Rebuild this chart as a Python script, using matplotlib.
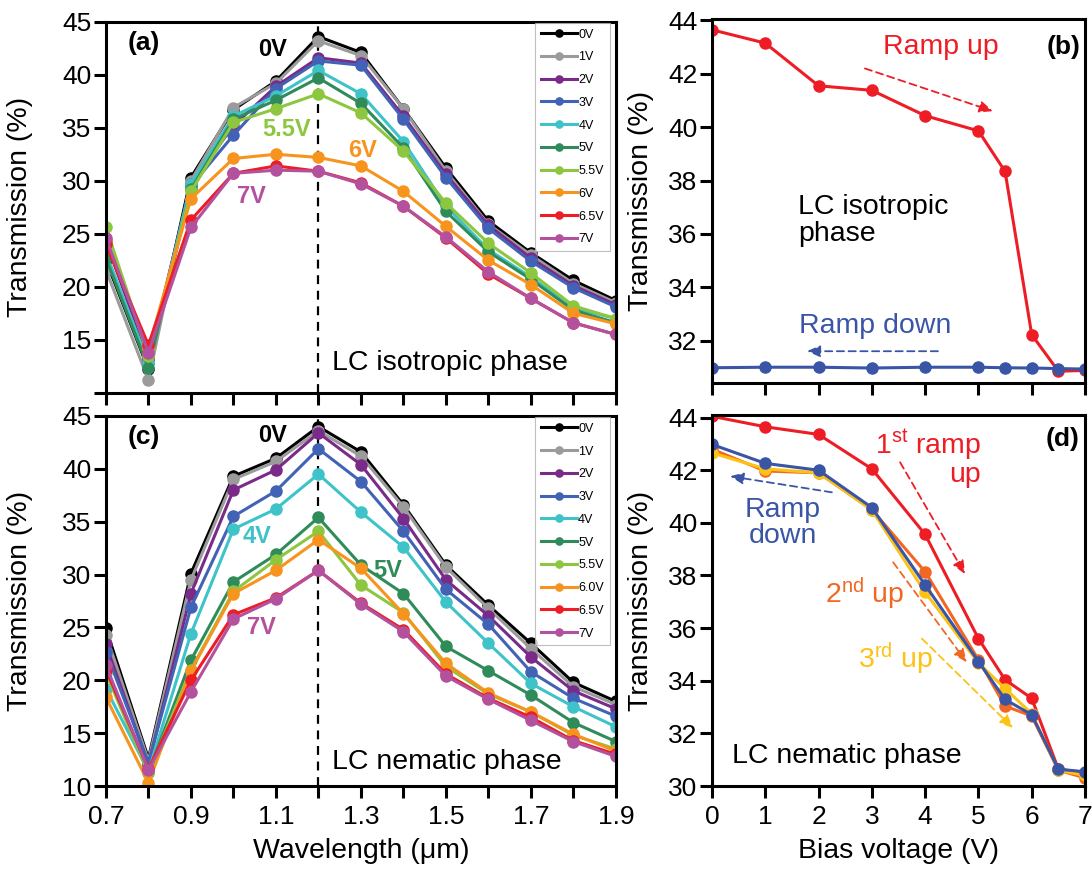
import matplotlib
matplotlib.use('Agg')
import matplotlib.pyplot as plt
from matplotlib.ticker import FixedLocator, NullFormatter

plt.rcParams['font.family'] = ['Liberation Sans', 'DejaVu Sans']
plt.rcParams['mathtext.fontset'] = 'custom'
plt.rcParams['mathtext.rm'] = 'Liberation Sans'
plt.rcParams['mathtext.it'] = 'Liberation Sans:italic'
plt.rcParams['mathtext.bf'] = 'Liberation Sans:bold'

# ---- spectra, wavelength in um ----
wavelength = [0.7, 0.8, 0.9, 1.0, 1.1, 1.2, 1.3, 1.4, 1.5, 1.6, 1.7, 1.8, 1.9]
volt_labels_iso = ['0V', '1V', '2V', '3V', '4V', '5V', '5.5V', '6V', '6.5V', '7V']
volt_labels_nem = ['0V', '1V', '2V', '3V', '4V', '5V', '5.5V', '6.0V', '6.5V', '7V']
volt_colors = ['#000000', '#9b9b9b', '#7a2a88', '#4262b6', '#3ec3c9',
               '#2f8c5a', '#8dc63f', '#f7941e', '#ee1d25', '#b4519e']

# LC isotropic phase
iso_0v = [22.5, 12.2, 30.3, 36.7, 39.4, 43.6, 42.1, 36.8, 31.2, 26.2, 23.2, 20.6, 18.7]
iso_1v = [21.6, 11.2, 30.0, 36.9, 39.2, 43.2, 41.8, 36.8, 30.9, 25.9, 23.0, 20.3, 18.5]
iso_2v = [24.3, 13.2, 29.7, 35.2, 38.9, 41.6, 41.1, 36.1, 30.6, 25.8, 22.7, 20.1, 18.3]
iso_3v = [23.0, 12.8, 29.5, 34.3, 38.7, 41.3, 40.9, 35.8, 30.3, 25.5, 22.4, 19.9, 18.1]
iso_4v = [23.2, 12.8, 29.7, 36.1, 38.0, 40.4, 38.2, 33.7, 27.6, 23.5, 20.9, 18.0, 17.0]
iso_5v = [22.7, 12.3, 29.2, 35.8, 37.6, 39.7, 37.3, 33.1, 27.1, 23.3, 20.7, 17.8, 16.6]
iso_55v = [25.6, 13.5, 29.0, 35.5, 36.8, 38.2, 36.4, 32.8, 27.9, 24.1, 21.3, 18.2, 17.0]
iso_6v = [24.3, 14.2, 28.3, 32.1, 32.5, 32.2, 31.4, 29.0, 25.7, 22.5, 20.2, 17.5, 16.5]
iso_65v = [24.0, 14.5, 26.3, 30.7, 31.4, 30.9, 29.8, 27.6, 24.6, 21.2, 18.9, 16.6, 15.5]
iso_7v = [24.6, 13.8, 25.6, 30.7, 31.0, 30.9, 29.7, 27.6, 24.7, 21.4, 18.9, 16.6, 15.5]

# LC nematic phase
nem_0v = [24.9, 12.6, 30.1, 39.3, 41.0, 44.0, 41.6, 36.6, 30.9, 27.1, 23.5, 19.8, 18.0]
nem_1v = [24.3, 12.4, 29.5, 39.0, 40.7, 43.6, 41.2, 36.4, 30.7, 26.8, 23.0, 19.4, 17.7]
nem_2v = [23.4, 12.0, 28.2, 38.0, 39.9, 43.4, 40.4, 35.3, 29.5, 26.1, 22.2, 19.0, 17.3]
nem_3v = [22.7, 12.2, 26.9, 35.5, 37.9, 41.9, 38.8, 34.1, 28.6, 25.3, 20.8, 18.3, 16.6]
nem_4v = [19.2, 11.4, 24.4, 34.3, 36.2, 39.5, 35.9, 32.6, 27.4, 23.5, 19.7, 17.5, 15.6]
nem_5v = [20.9, 11.3, 21.9, 29.3, 31.9, 35.4, 30.9, 28.2, 23.2, 20.9, 18.6, 16.0, 14.2]
nem_55v = [20.7, 11.2, 21.0, 28.4, 31.4, 34.1, 29.0, 26.4, 21.3, 18.7, 17.0, 14.8, 13.5]
nem_6v = [18.4, 10.3, 20.9, 28.2, 30.4, 33.3, 30.6, 26.3, 21.6, 18.8, 17.0, 14.9, 13.3]
nem_65v = [21.0, 11.6, 20.0, 26.2, 27.8, 30.4, 27.3, 24.8, 20.6, 18.3, 16.5, 14.3, 13.0]
nem_7v = [21.4, 11.5, 18.9, 25.8, 27.7, 30.4, 27.2, 24.6, 20.4, 18.2, 16.2, 14.2, 12.8]

# ---- transmission at 1.2 um versus bias ----
bias = [0, 1, 2, 3, 4, 5, 5.5, 6, 6.5, 7]
iso_ramp_up = [43.65, 43.15, 41.55, 41.38, 40.43, 39.86, 38.34, 32.22, 30.85, 30.88]
iso_ramp_down = [30.98, 31.0, 31.0, 30.97, 31.0, 31.0, 30.98, 30.97, 30.95, 30.93]
nem_up1 = [44.05, 43.65, 43.36, 42.05, 39.56, 35.6, 34.04, 33.33, 30.64, 30.5]
nem_up2 = [42.8, 41.97, 41.9, 40.5, 38.14, 34.8, 33.04, 32.66, 30.6, 30.31]
nem_up3 = [42.66, 42.05, 41.9, 40.49, 37.36, 34.68, 33.7, 32.75, 30.6, 30.4]
nem_down = [42.98, 42.26, 42.0, 40.58, 37.64, 34.73, 33.29, 32.71, 30.64, 30.54]

RED = '#ee1d25'
BLUE = '#3a55a6'
ORANGE = '#f26822'
YELLOW = '#fdc216'

iso_series = [iso_0v, iso_1v, iso_2v, iso_3v, iso_4v, iso_5v, iso_55v, iso_6v, iso_65v, iso_7v]
nem_series = [nem_0v, nem_1v, nem_2v, nem_3v, nem_4v, nem_5v, nem_55v, nem_6v, nem_65v, nem_7v]

NOTE = 20.5   # size of the in-panel captions

fig = plt.figure(figsize=(10.92, 8.69), dpi=100)
ax_a = fig.add_axes([0.097, 0.548, 0.467, 0.427])
ax_c = fig.add_axes([0.097, 0.0955, 0.467, 0.4258])
ax_b = fig.add_axes([0.652, 0.559, 0.3416, 0.419])
ax_d = fig.add_axes([0.652, 0.0955, 0.3416, 0.427])


def frame(ax):
    for s in ax.spines.values():
        s.set_linewidth(2.2)
    ax.tick_params(which='both', direction='out', length=8.5, width=2.2, labelsize=19,
                   top=False, right=False)
    ax.tick_params(axis='x', which='both', pad=5)
    ax.tick_params(axis='y', which='both', pad=2)


def spectra(ax, series, labels):
    for y, c, lab in zip(series, volt_colors, labels):
        ax.plot(wavelength, y, '-o', color=c, lw=2.2, ms=8, label=lab)
    ax.axvline(1.2, color='black', ls=(0, (4, 3)), lw=1.6, zorder=0)
    ax.set_xlim(0.7, 1.9)
    ax.set_ylim(10, 45)
    ax.xaxis.set_major_locator(FixedLocator([0.7, 0.9, 1.1, 1.3, 1.5, 1.7, 1.9]))
    ax.xaxis.set_minor_locator(FixedLocator([0.8, 1.0, 1.2, 1.4, 1.6, 1.8]))
    ax.set_yticks([10, 15, 20, 25, 30, 35, 40, 45])
    ax.set_ylabel('Transmission (%)', fontsize=20.5)
    ax.yaxis.set_label_coords(-0.143, 0.5)
    frame(ax)
    leg = ax.legend(loc='upper right', bbox_to_anchor=(0.99, 1.0), fontsize=9,
                    fancybox=False, edgecolor='#b0b0b0', borderaxespad=0.1,
                    handlelength=2.9, labelspacing=0.86, handletextpad=0.1,
                    borderpad=0.45, markerscale=0.65)
    leg.get_frame().set_linewidth(0.8)


# (a) isotropic spectra
spectra(ax_a, iso_series, volt_labels_iso)
ax_a.set_yticklabels(['', '15', '20', '25', '30', '35', '40', '45'])
ax_a.xaxis.set_major_formatter(NullFormatter())
ax_a.text(0.752, 43.0, '(a)', fontsize=19, fontweight='bold', va='center')
ax_a.text(1.093, 42.4, '0V', fontsize=17, fontweight='bold', ha='center', va='center')
ax_a.text(1.126, 34.8, '5.5V', fontsize=17, fontweight='bold', color='#8dc63f',
          ha='center', va='center')
ax_a.text(1.305, 32.9, '6V', fontsize=17, fontweight='bold', color='#f7941e',
          ha='center', va='center')
ax_a.text(1.043, 28.5, '7V', fontsize=17, fontweight='bold', color='#b4519e',
          ha='center', va='center')
ax_a.text(1.232, 12.8, 'LC isotropic phase', fontsize=NOTE, va='center')

# (c) nematic spectra
spectra(ax_c, nem_series, volt_labels_nem)
ax_c.set_yticklabels(['10', '15', '20', '25', '30', '35', '40', '45'])
ax_c.set_xlabel('Wavelength (\u03bcm)', fontsize=20.5, labelpad=7)
ax_c.text(0.752, 43.0, '(c)', fontsize=19, fontweight='bold', va='center')
ax_c.text(1.093, 43.2, '0V', fontsize=17, fontweight='bold', ha='center', va='center')
ax_c.text(1.055, 33.6, '4V', fontsize=17, fontweight='bold', color='#3ec3c9',
          ha='center', va='center')
ax_c.text(1.364, 30.4, '5V', fontsize=17, fontweight='bold', color='#2f8c5a',
          ha='center', va='center')
ax_c.text(1.067, 25.0, '7V', fontsize=17, fontweight='bold', color='#b4519e',
          ha='center', va='center')
ax_c.text(1.232, 12.3, 'LC nematic phase', fontsize=NOTE, va='center')


def arrow(ax, start, end, color):
    ax.annotate('', xy=end, xytext=start,
                arrowprops=dict(arrowstyle='-|>,head_length=0.8,head_width=0.35',
                                color=color, lw=1.3, ls=(0, (4, 2.5)),
                                shrinkA=0, shrinkB=0))


# (b) isotropic, bias sweep
ax_b.plot(bias, iso_ramp_up, '-o', color=RED, lw=2.2, ms=8)
ax_b.plot(bias, iso_ramp_down, '-o', color=BLUE, lw=2.2, ms=8)
ax_b.set_xlim(0, 7)
ax_b.set_ylim(30.4, 44.05)
ax_b.set_xticks(range(8))
ax_b.xaxis.set_major_formatter(NullFormatter())
ax_b.set_yticks([32, 34, 36, 38, 40, 42, 44])
ax_b.set_ylabel('Transmission (%)', fontsize=20.5)
ax_b.yaxis.set_label_coords(-0.155, 0.5)
frame(ax_b)
ax_b.text(6.59, 43.0, '(b)', fontsize=19, fontweight='bold', ha='center', va='center')
ax_b.text(4.3, 43.0, 'Ramp up', fontsize=NOTE, color=RED, ha='center', va='center')
arrow(ax_b, (2.87, 42.2), (5.27, 40.6), RED)
ax_b.text(3.06, 32.55, 'Ramp down', fontsize=NOTE, color=BLUE, ha='center', va='center')
arrow(ax_b, (4.24, 31.6), (1.78, 31.6), BLUE)
ax_b.text(1.61, 36.5, 'LC isotropic\nphase', fontsize=NOTE, va='center', linespacing=1.05)

# (d) nematic, bias sweep
ax_d.plot(bias, nem_up1, '-o', color=RED, lw=2.2, ms=8)
ax_d.plot(bias, nem_up2, '-o', color=ORANGE, lw=2.2, ms=8)
ax_d.plot(bias, nem_up3, '-o', color=YELLOW, lw=2.2, ms=8)
ax_d.plot(bias, nem_down, '-o', color=BLUE, lw=2.2, ms=8)
ax_d.set_xlim(0, 7)
ax_d.set_ylim(30, 44.1)
ax_d.set_xticks(range(8))
ax_d.set_yticks([30, 32, 34, 36, 38, 40, 42, 44])
ax_d.set_ylabel('Transmission (%)', fontsize=20.5)
ax_d.yaxis.set_label_coords(-0.155, 0.5)
ax_d.set_xlabel('Bias voltage (V)', fontsize=20.5, labelpad=7)
frame(ax_d)
ax_d.text(6.57, 43.2, '(d)', fontsize=19, fontweight='bold', ha='center', va='center')
ax_d.text(5.05, 42.45, '1$^{\\mathrm{st}}$ ramp\nup', fontsize=NOTE, color=RED,
          ha='right', va='center', multialignment='right', linespacing=1.0)
arrow(ax_d, (3.53, 42.3), (4.75, 38.05), RED)
ax_d.text(1.33, 40.0, 'Ramp\ndown', fontsize=NOTE, color=BLUE, ha='center', va='center',
          linespacing=1.0)
arrow(ax_d, (2.25, 41.16), (0.34, 41.77), BLUE)
ax_d.text(2.87, 37.3, '2$^{\\mathrm{nd}}$ up', fontsize=NOTE, color=ORANGE,
          ha='center', va='center')
arrow(ax_d, (3.40, 38.5), (4.78, 34.7), ORANGE)
ax_d.text(3.45, 34.83, '3$^{\\mathrm{rd}}$ up', fontsize=NOTE, color=YELLOW,
          ha='center', va='center')
arrow(ax_d, (3.94, 35.6), (5.65, 32.2), YELLOW)
ax_d.text(0.38, 31.15, 'LC nematic phase', fontsize=NOTE, va='center')

fig.savefig('out.png', dpi=100, facecolor='white')
